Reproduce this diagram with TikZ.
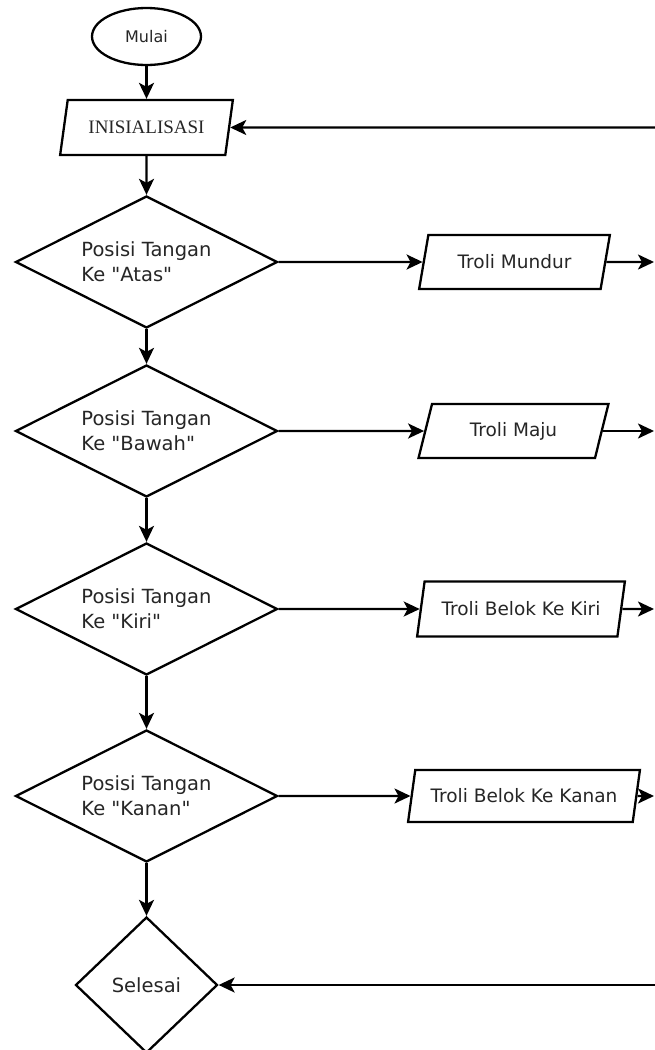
\documentclass[tikz,border=0pt]{standalone}
\usepackage{fontspec}
\setmainfont{DejaVu Sans}[Ligatures=TeXOff]
\newfontfamily\inifont{Liberation Serif}
\usetikzlibrary{shapes.geometric,arrows.meta}
\begin{document}
\begin{tikzpicture}[x=1pt,y=-1pt,
  every node/.style={text=black!85},
  arr/.style={line width=2.3pt, draw=black, -{Stealth[length=16pt,width=15pt,inset=4pt]}},
  decision/.style={diamond, draw, line width=2.3pt, shape aspect=2, minimum width=262pt, minimum height=132pt, inner sep=0pt, align=left, font=\fontsize{19.5}{25}\selectfont},
  endshape/.style={diamond, draw, line width=2.3pt, minimum width=142pt, minimum height=136pt, inner sep=0pt, font=\fontsize{19.5}{22}\selectfont},
  io/.style={trapezium, trapezium left angle=71, trapezium right angle=109, trapezium stretches=true, draw, line width=2.3pt, inner sep=2pt, font=\fontsize{18.5}{22}\selectfont},
  terminal/.style={ellipse, draw, line width=2.3pt, inner sep=0pt, font=\fontsize{16}{19}\selectfont},
]
\fill[white] (0,0) rectangle (654,1050);
\useasboundingbox (0,0) rectangle (654,1050);

\node[terminal, minimum width=109pt, minimum height=57pt] (start) at (146.5,36.5) {Mulai};
\node[io, minimum width=173pt, minimum height=55pt, font=\inifont\fontsize{19}{22}\selectfont] (init) at (146.5,127.5) {INISIALISASI};

\node[decision] (d1) at (146.5,262) {Posisi Tangan\\Ke "Atas"};
\node[decision] (d2) at (146.5,431) {Posisi Tangan\\Ke "Bawah"};
\node[decision] (d3) at (146.5,609) {Posisi Tangan\\Ke "Kiri"};
\node[decision] (d4) at (146.5,796) {Posisi Tangan\\Ke "Kanan"};
\node[endshape] (end) at (146.5,985) {Selesai};

\node[io, minimum width=191pt, minimum height=54pt] (b1) at (514.5,262) {Troli Mundur};
\node[io, minimum width=190pt, minimum height=54pt] (b2) at (513.5,431) {Troli Maju};
\node[io, minimum width=208pt, minimum height=55pt] (b3) at (521,609) {Troli Belok Ke Kiri};
\node[io, minimum width=232pt, minimum height=52pt] (b4) at (524,796) {Troli Belok Ke Kanan};

\coordinate (r1) at (654,262);
\coordinate (r2) at (654,431);
\coordinate (r3) at (654,609);
\coordinate (r4) at (654,796);
\coordinate (rin) at (662,127.5);
\coordinate (rend) at (662,985);

\draw[arr] (start) -- (init);
\draw[arr] (init) -- (d1);
\draw[arr] (d1) -- (d2);
\draw[arr] (d2) -- (d3);
\draw[arr] (d3) -- (d4);
\draw[arr] (d4) -- (end);

\draw[arr] (d1.east) -- (b1);
\draw[arr] (d2.east) -- (b2);
\draw[arr] (d3.east) -- (b3);
\draw[arr] (d4.east) -- (b4);

\draw[arr] (b1) -- (r1);
\draw[arr] (b2) -- (r2);
\draw[arr] (b3) -- (r3);
\draw[arr] (b4) -- (r4);

\draw[arr] (rin) -- (init);
\draw[arr] (rend) -- (end);
\end{tikzpicture}
\end{document}
